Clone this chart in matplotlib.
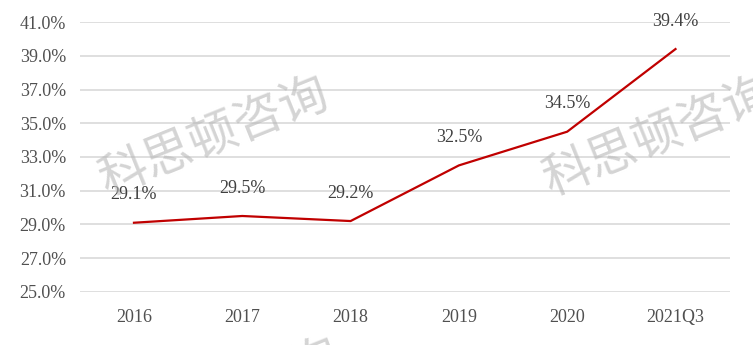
import matplotlib
matplotlib.use("Agg")
import matplotlib.pyplot as plt

categories = ["2016", "2017", "2018", "2019", "2020", "2021Q3"]
values = [29.1, 29.5, 29.2, 32.5, 34.5, 39.4]
yticks = [25, 27, 29, 31, 33, 35, 37, 39, 41]

serif = ["Liberation Serif", "DejaVu Serif"]
cjk = ["Noto Sans CJK SC", "DejaVu Sans"]

fig = plt.figure(figsize=(7.53, 3.45), dpi=100)
ax = fig.add_axes([0.106, 0.154, 0.863, 0.782])

x = list(range(len(categories)))
ax.plot(x, values, color="#C00000", linewidth=1.6, zorder=3)
for xi, v in zip(x, values):
    ax.annotate(f"{v:.1f}%", (xi, v), xytext=(0, 14), textcoords="offset points",
                ha="center", va="bottom", fontsize=13, family=serif, color="#404040")

ax.set_xlim(-0.5, len(categories) - 0.5)
ax.set_ylim(25, 41)
ax.set_yticks(yticks)
ax.set_yticklabels([f"{t:.1f}%" for t in yticks], family=serif, fontsize=13, color="#505050")
ax.set_xticks(x)
ax.set_xticklabels(categories, family=serif, fontsize=13, color="#505050")
ax.tick_params(length=0)
ax.tick_params(axis="x", pad=12)
ax.tick_params(axis="y", pad=10)
ax.grid(axis="y", color="#d9d9d9", linewidth=1.2, zorder=0)
ax.set_axisbelow(True)
for s in ax.spines.values():
    s.set_visible(False)

for (fx, fy) in [(0.285, 0.6), (0.875, 0.6), (0.3, -0.16)]:
    fig.text(fx, fy, "科思顿咨询", family=cjk, fontsize=35, color="#b8b8b8", alpha=0.6,
             rotation=22, ha="center", va="center", zorder=10)

fig.savefig("out.png", dpi=100)
